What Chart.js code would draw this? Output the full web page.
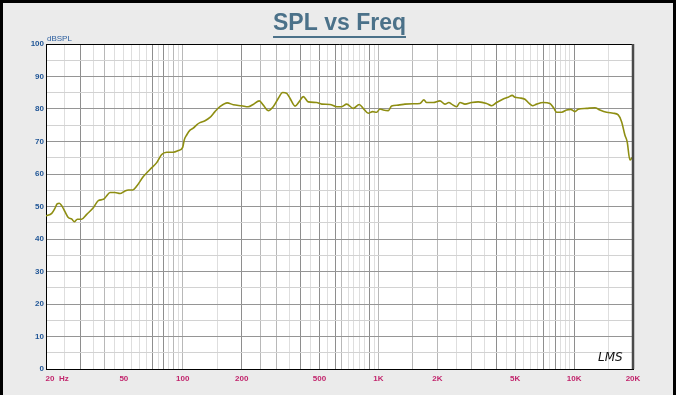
<!DOCTYPE html>
<html><head><meta charset="utf-8">
<script src="https://cdn.jsdelivr.net/npm/chart.js@4"></script>
<style>html,body{margin:0;padding:0;background:#fff;overflow:hidden}canvas{display:block}</style>
</head><body>
<canvas id="c" width="679" height="395"></canvas>
<script>
// ---- data ----
const freqs = [20, 21.4, 22.2, 22.8, 23.4, 24.1, 25.0, 26.0, 27.1, 27.9, 28.9, 30.4,
  32.3, 34.9, 37.0, 39.3, 40.5, 42.5, 45.0, 47.8, 50.7, 52.7, 55.5, 58.2,
  62.9, 68.0, 73.6, 78.0, 82.8, 89.4, 94.8, 99.9,
  101.8, 104.7, 108.9, 113.1, 118.2, 122.4, 129.9, 137.7, 146.1, 154.9, 168.8, 181.2,
  200, 216, 229, 246, 258, 273, 290, 308, 324, 340, 353, 375, 393, 413, 438, 483, 513, 565,
  612, 649, 688, 744, 798, 836, 887, 934, 979,
  1018, 1058, 1122, 1168, 1263, 1366, 1507, 1629, 1708, 1763, 1906,
  2062, 2188, 2292, 2366, 2510, 2610, 2768, 2994, 3236, 3572, 3790,
  4018, 4344, 4606, 4828, 4984, 5284, 5606, 5896, 6138, 6434, 6952, 7526, 7888, 8142, 8634, 9158, 9598,
  10096, 10496, 11588, 12778, 13550, 14662, 15842, 16804, 17488, 18178, 18680, 19282, 19816];
const spl = [47.1, 47.9, 49.4, 50.8, 51.0, 50.2, 48.4, 46.6, 46.1, 45.3, 46.1, 46.1,
  47.6, 49.6, 51.8, 52.2, 53.0, 54.3, 54.3, 54.0, 54.8, 55.1, 55.1, 56.3,
  59.2, 61.4, 63.5, 66.0, 66.7, 66.7, 67.2, 68.2,
  70.5, 72.0, 73.5, 74.1, 75.2, 75.8, 76.4, 77.4, 79.2, 80.7, 81.9, 81.3,
  81.0, 80.7, 81.4, 82.5, 81.2, 79.5, 80.7, 83.3, 85.1, 84.8, 83.3, 80.9, 82.2, 83.8, 82.2, 82.0, 81.5, 81.4,
  80.7, 80.7, 81.5, 80.2, 81.4, 80.2, 78.7, 79.2, 79.0,
  80.0, 79.7, 79.5, 80.9, 81.2, 81.5, 81.6, 81.7, 82.8, 82.0, 82.0,
  82.5, 81.5, 82.0, 81.5, 80.7, 82.0, 81.5, 82.0, 82.2, 81.7, 81.0,
  82.0, 83.1, 83.6, 84.2, 83.6, 83.4, 83.0, 81.7, 81.0, 81.5, 82.0, 81.7, 80.2, 79.0, 79.0, 79.7, 79.9,
  79.2, 79.9, 80.2, 80.4, 79.7, 79.0, 78.7, 78.2, 76.1, 72.0, 69.9, 64.3, 65.1];
const gridFreqs = [20, 25, 30, 35, 40, 45, 50, 55, 60, 65, 70, 75, 80, 85, 90, 95,
  100, 150, 200, 250, 300, 350, 400, 450, 500, 550, 600, 650, 700, 750, 800, 850, 900, 950,
  1000, 1500, 2000, 2500, 3000, 3500, 4000, 4500, 5000, 5500, 6000, 6500, 7000, 7500, 8000, 8500, 9000, 9500,
  10000, 15000, 20000];
const xTickLabels = {20: '          20  Hz', 50: '50', 100: '100', 200: '200', 500: '500',
  1000: '1K', 2000: '2K', 5000: '5K', 10000: '10K', 20000: '20K'};
const darkGrid = [30, 70, 80, 200, 400, 500, 600, 900, 4000, 7000, 8000, 10000];
const midGrid = [40, 90, 100, 250, 300, 650, 1000, 1500, 2000, 3000, 5000];
const yMin = 0, yMax = 100, yStep = 5;
const titleText = 'SPL vs Freq';
const yUnit = 'dBSPL';

const TITLE_COLOR = '#4b7189';
const frame = {
  id: 'frame',
  beforeDraw(chart) {
    const c = chart.ctx, a = chart.chartArea;
    c.save();
    c.fillStyle = '#ffffff'; c.fillRect(0, 0, chart.width, chart.height);
    c.fillStyle = '#ebebeb'; c.fillRect(0, 0, 676, chart.height);
    c.fillStyle = '#000'; c.fillRect(0, 0, 3, chart.height); c.fillRect(0, 0, 676, 3); c.fillRect(673, 0, 3, chart.height);
    c.fillStyle = '#fff'; c.fillRect(a.left, a.top, a.right - a.left, a.bottom - a.top);
    c.restore();
  },
  afterDraw(chart) {
    const c = chart.ctx, a = chart.chartArea;
    c.save();
    c.strokeStyle = '#000'; c.lineWidth = 1;
    c.beginPath(); c.moveTo(a.left, a.top + 0.5); c.lineTo(a.right, a.top + 0.5); c.stroke();
    c.strokeStyle = '#4a4a4a'; c.lineWidth = 2.5;
    c.beginPath(); c.moveTo(a.right, a.top); c.lineTo(a.right, a.bottom); c.stroke();
    // title underline
    c.font = 'bold 23px Arial, "Liberation Sans", sans-serif';
    const w = c.measureText(titleText).width;
    c.fillStyle = TITLE_COLOR;
    c.fillRect(chart.width / 2 - w / 2, 36, w, 2);
    // unit label
    c.font = '8px Arial, "Liberation Sans", sans-serif';
    c.fillStyle = '#2a5d9e'; c.textAlign = 'left'; c.textBaseline = 'middle';
    c.fillText(yUnit, 47, 38.5);
    // LMS mark
    c.font = 'italic 12px "DejaVu Sans", sans-serif';
    c.fillStyle = '#111'; c.textBaseline = 'alphabetic';
    c.fillText('LMS', 598, 361);
    c.restore();
  }
};

function xGridColor(ctx) {
  const v = ctx.tick ? ctx.tick.value : 0;
  if (darkGrid.includes(v)) return '#8e8e8e';
  if (midGrid.includes(v)) return '#b8b8b8';
  return '#dedede';
}

new Chart(document.getElementById('c'), {
  type: 'line',
  data: { datasets: [{
    data: freqs.map((f, i) => ({x: f, y: spl[i]})),
    borderColor: '#8e8e12', borderWidth: 1.6, pointRadius: 0,
    cubicInterpolationMode: 'monotone', fill: false
  }]},
  plugins: [frame],
  options: {
    responsive: false, animation: false, devicePixelRatio: 1,
    layout: { padding: { left: 0, right: 0, top: 0, bottom: 0 } },
    plugins: {
      legend: { display: false }, tooltip: { enabled: false },
      title: { display: true, text: titleText, color: TITLE_COLOR,
        font: { family: 'Arial, "Liberation Sans", sans-serif', size: 23, weight: 'bold', lineHeight: 1.2 },
        padding: { top: 10, bottom: 6.4 } }
    },
    scales: {
      x: {
        type: 'logarithmic', min: 20, max: 20000,
        afterBuildTicks: s => { s.ticks = gridFreqs.map(v => ({value: v})); },
        afterFit: s => { s.height = 26; },
        grid: { color: xGridColor, lineWidth: 1, drawTicks: false },
        border: { display: true, color: '#000', width: 1 },
        ticks: { autoSkip: false, maxRotation: 0, minRotation: 0, padding: 5,
          color: '#c2246c', font: { family: 'Arial, "Liberation Sans", sans-serif', size: 8, weight: 'bold' },
          callback: v => xTickLabels[v] || '' }
      },
      y: {
        min: yMin, max: yMax,
        afterFit: s => { s.width = 46; },
        grid: { color: c => (c.tick && c.tick.value % 10 === 0) ? '#959595' : '#d2d2d2', lineWidth: 1, drawTicks: false },
        border: { display: true, color: '#000', width: 1 },
        ticks: { stepSize: yStep, padding: 2, color: '#1f5596',
          font: { family: 'Arial, "Liberation Sans", sans-serif', size: 8, weight: 'bold' },
          callback: v => (v % 10 === 0 ? String(v) : '') }
      },
      yRight: {
        position: 'right', min: yMin, max: yMax,
        afterFit: s => { s.width = 46; },
        grid: { display: false }, border: { display: false },
        ticks: { display: false }
      }
    }
  }
});
</script>
</body></html>
